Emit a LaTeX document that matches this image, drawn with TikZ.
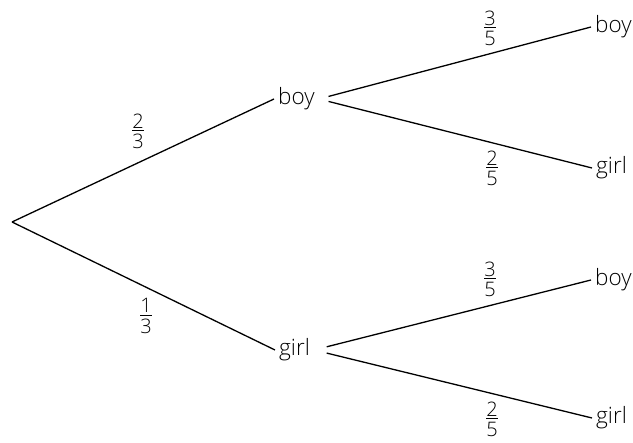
\documentclass[tikz,border=0pt]{standalone}
\usepackage{fontspec}
\setmainfont{Open Sans Light}
% stacked fraction: numerator, bar, denominator
\newcommand{\stackfrac}[2]{\vbox{\halign{\hfil##\hfil\cr #1\cr\noalign{\kern2pt\hrule height 1.1pt\kern2.5pt} #2\cr}}}
\begin{document}
\begin{tikzpicture}[x=1pt,y=-1pt,
  branch/.style={line width=1.3pt},
  outcome/.style={anchor=west,inner xsep=4pt,inner ysep=1pt,font=\fontsize{22.5}{26}\selectfont},
  prob/.style={inner sep=0pt,font=\fontsize{20}{23}\selectfont}]
\useasboundingbox (0,0) rectangle (633,443);
% root of the tree
\coordinate (root) at (12,222);
% first stage
\node[outcome] (b1) at (274,99) {boy};
\node[outcome] (g1) at (275,350) {girl};
% second stage
\node[outcome] (bb) at (591,27) {boy};
\node[outcome] (bg) at (592,168) {girl};
\node[outcome] (gb) at (591,280) {boy};
\node[outcome] (gg) at (592,418) {girl};
% branches
\draw[branch] (root) -- (b1.west);
\draw[branch] (root) -- (g1.west);
\draw[branch,shorten <=10pt] (b1.east) -- (bb.west);
\draw[branch,shorten <=10pt] (b1.east) -- (bg.west);
\draw[branch,shorten <=13pt] (g1.east) -- (gb.west);
\draw[branch,shorten <=13pt] (g1.east) -- (gg.west);
% probabilities
\node[prob] (p1) at (138,131) {\stackfrac{2}{3}};
\node[prob] (p2) at (146,316) {\stackfrac{1}{3}};
\node[prob] (p3) at (490,28) {\stackfrac{3}{5}};
\node[prob] (p4) at (492,168) {\stackfrac{2}{5}};
\node[prob] (p5) at (490,279) {\stackfrac{3}{5}};
\node[prob] (p6) at (492,419) {\stackfrac{2}{5}};
\end{tikzpicture}
\end{document}
